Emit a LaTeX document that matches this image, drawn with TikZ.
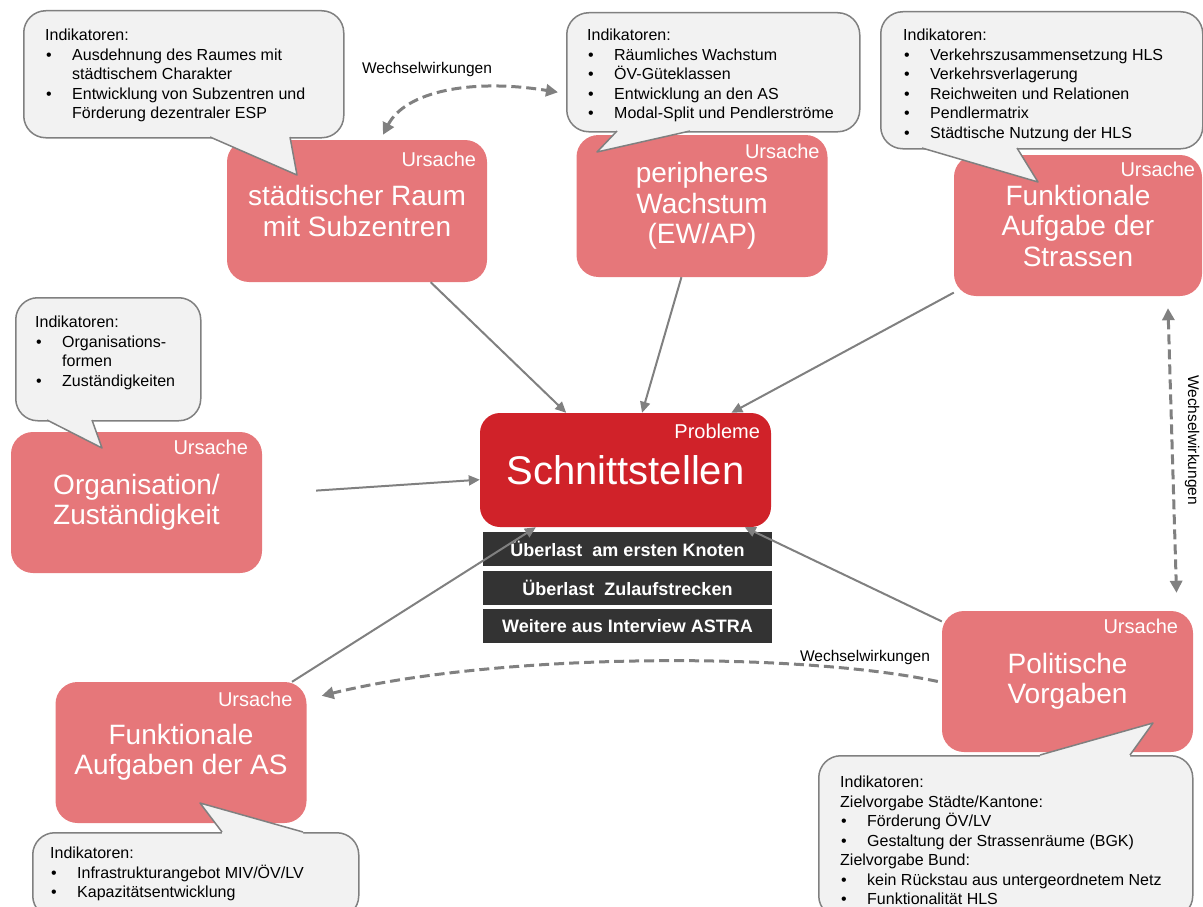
\documentclass[tikz,border=0pt]{standalone}
\usepackage{fontspec}
\setmainfont{Liberation Sans}
\usetikzlibrary{arrows.meta,positioning,calc}
\definecolor{CauseRed}{RGB}{230,119,122}
\definecolor{ProbRed}{RGB}{208,34,41}
\definecolor{BarGray}{RGB}{51,51,51}
\definecolor{NoteFill}{RGB}{242,242,242}
\definecolor{LineGray}{RGB}{128,128,128}
\newcommand{\bul}{\makebox[27pt][l]{\hspace{1pt}\textbullet}}
\newcommand{\ind}{\makebox[27pt]{}}

\begin{document}
\begin{tikzpicture}[x=1pt,y=-1pt,
cause/.style={fill=CauseRed,rounded corners=22pt,minimum width=251pt,minimum height=141pt,align=center,text=white,font=\fontsize{28}{30.5}\selectfont,inner sep=0pt},
tag/.style={anchor=east,text=white,font=\fontsize{20}{24}\selectfont,inner sep=0pt},
prob/.style={fill=ProbRed,rounded corners=20pt,minimum width=291pt,minimum height=114pt,text=white,font=\fontsize{40}{44}\selectfont,inner sep=0pt},
bar/.style={fill=BarGray,minimum width=289pt,minimum height=34pt,text=white,font=\fontsize{18}{22}\selectfont\bfseries,inner sep=0pt},
note/.style={draw=LineGray,line width=1.5pt,fill=NoteFill,rounded corners=22pt,anchor=north west,inner sep=0pt},
notepath/.style={draw=LineGray,line width=1.5pt,line join=round},
notetext/.style={anchor=north west,align=left,inner sep=0pt,font=\fontsize{16}{19.5}\selectfont},
arr/.style={-{Triangle[length=11pt,width=10pt]},line width=2pt,draw=LineGray},
ww/.style={>={Triangle[length=12pt,width=12pt]},line width=3pt,draw=LineGray,dash pattern=on 10pt off 5pt},
wwlabel/.style={font=\fontsize{15.5}{18}\selectfont,inner sep=0pt}
]
\useasboundingbox (0,0) rectangle (1203,907);

% causes
\node[cause,minimum width=260pt,minimum height=142pt] (stad) at (357,211) {städtischer Raum\\mit Subzentren};
\node[cause,minimum height=142pt] (peri) at (702,206) {peripheres\\Wachstum\\(EW/AP)};
\node[cause,minimum width=248pt] (funk) at (1078,225.5) {Funktionale\\Aufgabe der\\Strassen};
\node[cause] (orga) at (136.5,502.5) {Organisation/\\Zuständigkeit};
\node[cause] (fas) at (181,752.5) {Funktionale\\Aufgaben der AS};
\node[cause] (pol) at (1067.5,681.5) {Politische\\Vorgaben};
\node[tag] (stadTag) at ([xshift=-11pt,yshift=-20pt]stad.north east) {Ursache};
\node[tag] (periTag) at ([xshift=-8pt,yshift=-17pt]peri.north east) {Ursache};
\node[tag] (funkTag) at ([xshift=-7pt,yshift=-15pt]funk.north east) {Ursache};
\node[tag] (orgaTag) at ([xshift=-14pt,yshift=-16pt]orga.north east) {Ursache};
\node[tag] (fasTag) at ([xshift=-14pt,yshift=-18pt]fas.north east) {Ursache};
\node[tag] (polTag) at ([xshift=-15pt,yshift=-16pt]pol.north east) {Ursache};

% problem
\node[prob] (schn) at (625.5,470) {Schnittstellen};
\node[tag] (schnTag) at ([xshift=-11pt,yshift=-19pt]schn.north east) {Probleme};
\node[bar] (bar1) at (627.5,549) {Überlast\ \ am ersten Knoten};
\node[bar] (bar2) at (627.5,587.5) {Überlast\ \ Zulaufstrecken};
\node[bar] (bar3) at (627.5,626) {Weitere aus Interview ASTRA};

% indicator notes
\node[note,minimum width=320pt,minimum height=127pt] (calA) at (23,10) {};
\fill[NoteFill] (210,134) -- (210,137) -- (297,175) -- (290,137) -- (290,134) -- cycle;
\draw[notepath] (210,137) -- (297,175) -- (290,137);
\node[notetext] (calAtext) at (45,29.2) {Indikatoren:\\\bul Ausdehnung des Raumes mit\\\ind städtischem Charakter\\\bul Entwicklung von Subzentren und\\\ind Förderung dezentraler ESP};

\node[note,minimum width=293pt,minimum height=119pt] (calB) at (566,12) {};
\fill[NoteFill] (617,128) -- (617,131) -- (597,152) -- (690,131) -- (690,128) -- cycle;
\draw[notepath] (617,131) -- (597,152) -- (690,131);
\node[notetext] (calBtext) at (587,29.2) {Indikatoren:\\\bul Räumliches Wachstum\\\bul ÖV-Güteklassen\\\bul Entwicklung an den AS\\\bul Modal-Split und Pendlerströme};

\node[note,minimum width=322pt,minimum height=137pt] (calC) at (880,11) {};
\fill[NoteFill] (922,145) -- (922,148) -- (1038,182) -- (1017,148) -- (1017,145) -- cycle;
\draw[notepath] (922,148) -- (1038,182) -- (1017,148);
\node[notetext] (calCtext) at (903,29.2) {Indikatoren:\\\bul Verkehrszusammensetzung HLS\\\bul Verkehrsverlagerung\\\bul Reichweiten und Relationen\\\bul Pendlermatrix\\\bul Städtische Nutzung der HLS};

\node[note,minimum width=185pt,minimum height=123pt] (calD) at (15,297) {};
\fill[NoteFill] (47,417) -- (47,420) -- (102,448) -- (92,420) -- (92,417) -- cycle;
\draw[notepath] (47,420) -- (102,448) -- (92,420);
\node[notetext] (calDtext) at (35,316) {Indikatoren:\\\bul Organisations-\\\ind formen\\\bul Zuständigkeiten};

\node[note,minimum width=326pt,minimum height=85pt] (calE) at (32,832) {};
\fill[NoteFill] (222,835) -- (222,832) -- (200,803) -- (303,832) -- (303,835) -- cycle;
\draw[notepath] (222,832) -- (200,803) -- (303,832);
\node[notetext] (calEtext) at (50,847) {Indikatoren:\\\bul Infrastrukturangebot MIV/ÖV/LV\\\bul Kapazitätsentwicklung};

\node[note,minimum width=374pt,minimum height=162pt] (calF) at (818,755) {};
\fill[NoteFill] (1040,758) -- (1040,755) -- (1153,723) -- (1130,755) -- (1130,758) -- cycle;
\draw[notepath] (1040,755) -- (1153,723) -- (1130,755);
\node[notetext] (calFtext) at (840,776) {Indikatoren:\\Zielvorgabe Städte/Kantone:\\\bul Förderung ÖV/LV\\\bul Gestaltung der Strassenräume (BGK)\\Zielvorgabe Bund:\\\bul kein Rückstau aus untergeordnetem Netz\\\bul Funktionalität HLS};

% connectors
\draw[arr] (stad) -- (schn);
\draw[arr] (peri) -- (schn);
\draw[arr] (funk) -- (schn);
\draw[arr,shorten <=54pt] (orga) -- (schn);
\draw[arr] (fas) -- (schn);
\draw[arr] (pol) -- (schn);

\draw[ww,<->] ([xshift=26pt,yshift=5pt]stad.north) .. controls (405,92) and (470,78) .. ([xshift=-8pt,yshift=-20pt]calB.west);
\draw[ww,<->] ([xshift=90pt,yshift=-12pt]funk.south) -- ([xshift=109pt,yshift=18pt]pol.north);
\draw[ww,->] ([xshift=-4pt]pol.west) .. controls (800,652) and (500,652) .. ([xshift=15pt,yshift=-14pt]fas.north east);

\node[wwlabel] (wwTop) at (427,69) {Wechselwirkungen};
\node[wwlabel] (wwBottom) at (865,657) {Wechselwirkungen};
\node[wwlabel,rotate=-90] (wwRight) at (1192,440) {Wechselwirkungen};
\end{tikzpicture}
\end{document}
